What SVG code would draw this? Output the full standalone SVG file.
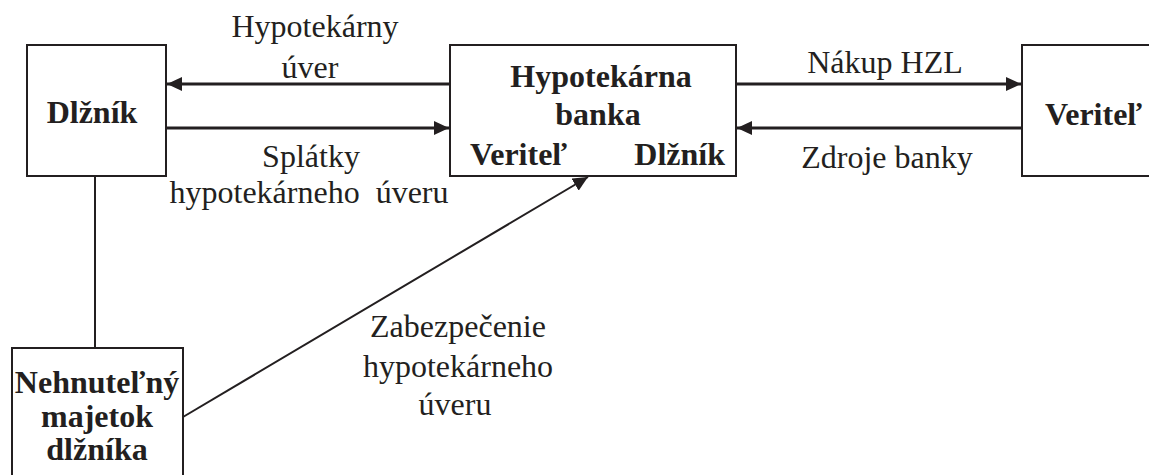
<svg xmlns="http://www.w3.org/2000/svg" width="1149" height="475" viewBox="0 0 1149 475">
<style>
.box{fill:#fff;stroke:#231f20;stroke-width:2}
.t{font-family:"Liberation Serif","Times New Roman",serif;font-size:32px;fill:#231f20;white-space:pre}
.b{font-weight:bold}
.m{text-anchor:middle}
.thick{stroke:#231f20;stroke-width:3.2;fill:none}
.thin{stroke:#231f20;stroke-width:2;fill:none}
</style>
<defs>
<marker id="ah" markerUnits="userSpaceOnUse" markerWidth="16" markerHeight="14" refX="15" refY="7" orient="auto">
<path d="M0,0 L15,7 L0,14 Z" fill="#231f20"/>
</marker>
</defs>
<rect width="1149" height="475" fill="#fff"/>
<g id="connectors">
<line class="thick" x1="450" y1="84" x2="167" y2="84" marker-end="url(#ah)"/>
<line class="thick" x1="166" y1="128" x2="449" y2="128" marker-end="url(#ah)"/>
<line class="thick" x1="736" y1="84" x2="1021" y2="84" marker-end="url(#ah)"/>
<line class="thick" x1="1022" y1="128" x2="737" y2="128" marker-end="url(#ah)"/>
<line class="thin" x1="95" y1="176" x2="95" y2="348"/>
<line class="thin" x1="183" y1="417" x2="588" y2="177" marker-end="url(#ah)"/>
</g>
<g id="labels">
<text class="t m" x="315" y="37">Hypotekárny</text>
<text class="t m" x="310" y="78">úver</text>
<text class="t m" x="311" y="167">Splátky</text>
<text class="t m" x="309" y="203">hypotekárneho  úveru</text>
<text class="t m" x="885" y="73">Nákup HZL</text>
<text class="t m" x="887" y="168">Zdroje banky</text>
<text class="t m" x="458" y="337">Zabezpečenie</text>
<text class="t m" x="458" y="377">hypotekárneho</text>
<text class="t m" x="455" y="415">úveru</text>
</g>
<g id="dlznik">
<rect class="box" x="27" y="45" width="139" height="131"/>
<text class="t b m" x="92" y="123">Dlžník</text>
</g>
<g id="banka">
<rect class="box" x="450" y="45" width="286" height="131"/>
<text class="t b m" x="601" y="87">Hypotekárna</text>
<text class="t b m" x="598" y="125">banka</text>
<text class="t b" x="470" y="165">Veriteľ</text>
<text class="t b" x="725" y="165" text-anchor="end">Dlžník</text>
</g>
<g id="veritel">
<rect class="box" x="1022" y="45" width="150" height="131"/>
<text class="t b" x="1045" y="125">Veriteľ</text>
</g>
<g id="majetok">
<rect class="box" x="12" y="348" width="171" height="140"/>
<text class="t b m" x="97" y="393">Nehnuteľný</text>
<text class="t b m" x="97" y="427">majetok</text>
<text class="t b m" x="97" y="460">dlžníka</text>
</g>
</svg>
